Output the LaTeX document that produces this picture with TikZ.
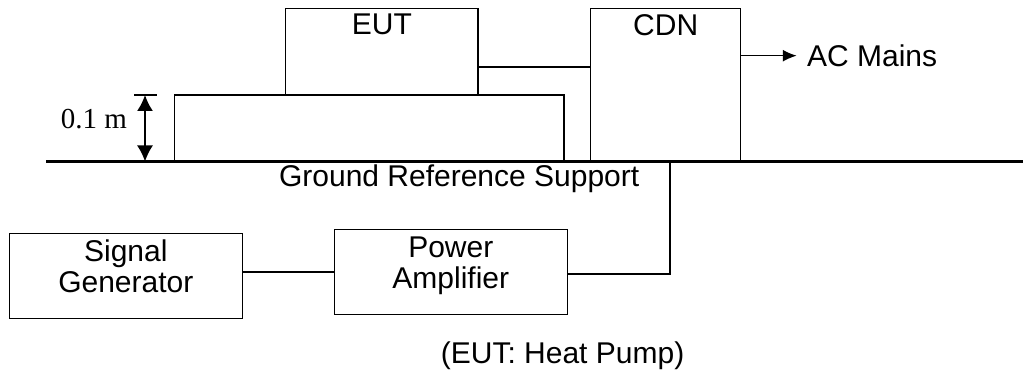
\documentclass[tikz,border=0pt]{standalone}
\usepackage{fontspec}
\setmainfont{Liberation Sans}
\newfontfamily\serifnum{Liberation Serif}
\usepackage{tikz}
\usetikzlibrary{positioning, arrows.meta, calc}

\begin{document}
\begin{tikzpicture}[
    x=0.5pt, y=-0.5pt,
    every node/.style={font=\fontsize{15}{15.5}\selectfont},
    box/.style={draw, line width=0.75pt, inner sep=0pt},
    txt/.style={inner sep=0pt, align=center},
    wire/.style={line width=0.9pt},
    arr/.style={-{Latex[length=7pt, width=6pt]}, line width=0.8pt},
    dimarr/.style={{Latex[length=8pt, width=8pt]}-{Latex[length=8pt, width=8pt]}, line width=0.8pt},
    groundline/.style={line width=1.4pt},
]
\useasboundingbox (0,0) rectangle (1023,373);

% === Support table, EUT and CDN ===
\node[box, minimum width=194.65pt, minimum height=33.25pt] (table) at (369.35,128.25) {};
\node[box, minimum width=96.15pt, minimum height=43.35pt] (eut) at (381.85,51.65) {};
\node[txt, below=3.2pt of eut.north] (eut_lbl) {EUT};
\node[box, minimum width=75pt, minimum height=76.6pt] (cdn) at (665.7,84.9) {};
\node[txt, below=3.2pt of cdn.north] (cdn_lbl) {CDN};

% Ground reference plane
\coordinate (gnd_l) at (46,161.5);
\coordinate (gnd_r) at (1023,161.5);
\draw[groundline] (gnd_l) -- (gnd_r);
\node[txt, anchor=base] (gnd_lbl) at (459.2,187) {Ground Reference Support};

% Height of the support
\coordinate (dim_top) at (145,95);
\coordinate (dim_bot) at (145,161.5);
\draw[wire] ([xshift=-5.5pt]dim_top) -- ([xshift=6pt]dim_top);
\draw[dimarr] (dim_top) -- (dim_bot);
\node[txt, font=\serifnum\fontsize{14.5}{15}\selectfont] (dim_lbl) at (94,119) {0.1 m};

% === Generator chain ===
\node[box, minimum width=116.5pt, minimum height=42.5pt] (sg) at (125.8,275.8) {};
\node[txt, below=3.2pt of sg.north] (sg_lbl) {Signal\\Generator};
\node[box, minimum width=116.5pt, minimum height=42.5pt] (pa) at (450.8,271.8) {};
\node[txt, below=4.1pt of pa.north] (pa_lbl) {Power\\Amplifier};

% === Connections ===
\draw[wire] ([yshift=-7.5pt]eut.east) -- ([yshift=-7.5pt]eut.east -| cdn.west);
\draw[arr] ([yshift=14.6pt]cdn.east) -- ++(27.65pt,0) coordinate (mains);
\node[txt, right=5pt of mains] (mains_lbl) {AC Mains};
\draw[wire] ([yshift=1.75pt]sg.east) -- ([yshift=1.75pt]sg.east -| pa.west);
\draw[wire] ([yshift=-1.1pt]pa.east) -| ([xshift=2.2pt]cdn.south);

% Note
\node[txt, anchor=base] (note) at (562.6,363.3) {(EUT: Heat Pump)};

\end{tikzpicture}
\end{document}
